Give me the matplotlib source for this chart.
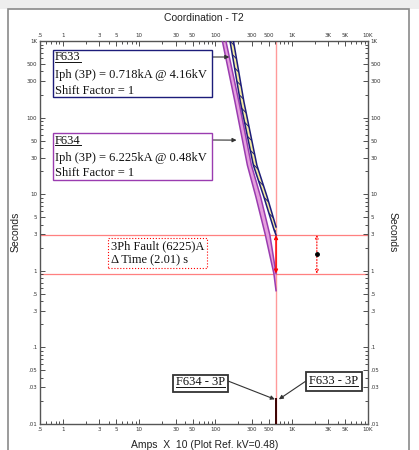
import numpy as np
import matplotlib
matplotlib.use('Agg')
import matplotlib.pyplot as plt
from matplotlib.patches import Rectangle
from matplotlib.lines import Line2D
from matplotlib.ticker import FixedLocator, NullFormatter

# ---------------------------------------------------------------
# Dados (Amps x10, segundos)
# ---------------------------------------------------------------
f633_lo_amps = [155, 212, 314, 431, 589, 622.5]
f633_lo_sec = [1000, 161, 23.9, 9.22, 3.38, 2.93]
f633_hi_amps = [172, 236, 349, 476, 622.5]
f633_hi_sec = [1000, 161, 23.9, 9.22, 3.74]

f634_lo_amps = [123, 180, 262, 339, 451, 583, 622.5]
f634_lo_sec = [1000, 161, 23.9, 9.22, 2.93, 0.92, 0.55]
f634_hi_amps = [137, 203, 296, 391, 517, 622.5]
f634_hi_sec = [1000, 161, 23.9, 9.22, 2.93, 0.92]

fault_amps = 622.5
t_f633 = 2.93
t_f634 = 0.92
delta_amps = 2135
fault_mark_sec = [0.01, 0.021]

x_ticks = [0.5, 1, 3, 5, 10, 30, 50, 100, 300, 500, 1000, 3000, 5000, 10000]
x_labels = ['.5', '1', '3', '5', '10', '30', '50', '100', '300', '500', '1K', '3K', '5K', '10K']
y_ticks = [0.01, 0.03, 0.05, 0.1, 0.3, 0.5, 1, 3, 5, 10, 30, 50, 100, 300, 500, 1000]
y_labels = ['.01', '.03', '.05', '.1', '.3', '.5', '1', '3', '5', '10', '30', '50', '100', '300', '500', '1K']

NAVY = '#1c1c7a'
PURPLE = '#9a3cb0'
PINK = '#e6a0de'
RED = '#ff6060'

W, H = 419, 450


def fx(px):
    return px / W


def fy(py):
    return 1 - py / H


fig = plt.figure(figsize=(W / 100, H / 100), dpi=100)
fig.patch.set_facecolor('white')
ax = fig.add_axes([fx(40), fy(424), fx(368) - fx(40), fy(41) - fy(424)])
ax.set_xscale('log')
ax.set_yscale('log')
ax.set_xlim(0.5, 10000)
ax.set_ylim(0.01, 1000)

# moldura externa
fig.add_artist(Rectangle((0, fy(9)), 1, 1 - fy(9), transform=fig.transFigure,
                         facecolor='#eeeeee', edgecolor='none', zorder=-5))
fig.add_artist(Rectangle((fx(8), -0.01), fx(409) - fx(8), fy(9) + 0.01,
                         transform=fig.transFigure, facecolor='white',
                         edgecolor='#8a8a8a', lw=1.2, zorder=-4))

# ticks
minor_x = [m * 10.0 ** d for d in range(-1, 4) for m in range(1, 10)]
minor_y = [m * 10.0 ** d for d in range(-2, 3) for m in range(1, 10)]
ax.xaxis.set_major_locator(FixedLocator(x_ticks))
ax.xaxis.set_minor_locator(FixedLocator([v for v in minor_x if 0.5 <= v <= 10000 and v not in x_ticks]))
ax.yaxis.set_major_locator(FixedLocator(y_ticks))
ax.yaxis.set_minor_locator(FixedLocator([v for v in minor_y if 0.01 <= v <= 1000 and v not in y_ticks]))
ax.set_xticklabels(x_labels)
ax.set_yticklabels(y_labels)
ax.xaxis.set_minor_formatter(NullFormatter())
ax.yaxis.set_minor_formatter(NullFormatter())
ax.tick_params(which='both', direction='in', top=True, right=True,
               labeltop=True, labelright=True, labelsize=4, pad=2, colors='#333333')
ax.tick_params(which='major', length=3.5, width=0.6)
ax.tick_params(which='minor', length=2, width=0.6)
for s in ax.spines.values():
    s.set_color('#555555')
    s.set_linewidth(1)

# linhas de falta
ax.axvline(fault_amps, color='#ff9a9a', lw=1, zorder=1)
ax.axhline(t_f633, color=RED, lw=0.9, alpha=0.8, zorder=1)
ax.axhline(t_f634, color=RED, lw=0.9, alpha=0.8, zorder=1)

# faixa F634
poly_x = list(f634_hi_amps) + list(f634_lo_amps[::-1])
poly_y = list(f634_hi_sec) + list(f634_lo_sec[::-1])
ax.fill(poly_x, poly_y, facecolor=PINK, edgecolor='none', zorder=2)
ax.plot(f634_lo_amps, f634_lo_sec, color=PURPLE, lw=1.1, zorder=3)
ax.plot(f634_hi_amps, f634_hi_sec, color=PURPLE, lw=1.1, zorder=3)

# faixa F633
plt.rcParams['hatch.linewidth'] = 0.7
plt.rcParams['hatch.color'] = NAVY
poly_x = list(f633_hi_amps) + list(f633_lo_amps[::-1])
poly_y = list(f633_hi_sec) + list(f633_lo_sec[::-1])
ax.fill(poly_x, poly_y, facecolor='#f4eca0', edgecolor=NAVY, hatch='\\\\\\', lw=0, zorder=2)
ax.plot(f633_lo_amps, f633_lo_sec, color=NAVY, lw=1.1, zorder=3)
ax.plot(f633_hi_amps, f633_hi_sec, color=NAVY, lw=1.1, zorder=3)

# delta T
ax.annotate('', xy=(fault_amps, t_f633), xytext=(fault_amps, t_f634),
            arrowprops=dict(arrowstyle='<->', color='red', lw=1.1, mutation_scale=5,
                            shrinkA=0, shrinkB=0), zorder=4)
ax.annotate('', xy=(delta_amps, t_f633), xytext=(delta_amps, t_f634),
            arrowprops=dict(arrowstyle='<->', color='red', lw=0.8, ls=':', mutation_scale=5,
                            shrinkA=0, shrinkB=0), zorder=4)
ax.plot([delta_amps], [np.sqrt(t_f633 * t_f634)], 'o', color='black', ms=2.5, zorder=5)

# marca da falta 3P
ax.plot([fault_amps, fault_amps], fault_mark_sec, color='#3a0000', lw=1.4, zorder=4)


def box(x0, y0, x1, y1, color, lw=1.0, ls='-'):
    fig.add_artist(Rectangle((fx(x0), fy(y1)), fx(x1) - fx(x0), fy(y0) - fy(y1),
                             transform=fig.transFigure, facecolor='white',
                             edgecolor=color, lw=lw, ls=ls, zorder=6))


under = []


def label(x, y, s, size=9, underline=False):
    t = fig.text(fx(x), fy(y), s, fontsize=size, family='Liberation Serif',
                 ha='left', va='center', color='#111111', zorder=7)
    if underline:
        under.append(t)
    return t


def pointer(target, start):
    ax.annotate('', xy=target, xycoords='data', xytext=(fx(start[0]), fy(start[1])),
                textcoords='figure fraction',
                arrowprops=dict(arrowstyle='-|>', color='#333333', lw=0.8, mutation_scale=6,
                                shrinkA=0, shrinkB=0), zorder=5)


# caixa F633
box(53, 50, 212, 97, NAVY)
label(55, 57.5, 'F633', underline=True)
label(55, 75, 'Iph (3P) = 0.718kA @ 4.16kV')
label(55, 90.5, 'Shift Factor = 1')
pointer((152, 618), (212, 57))

# caixa F634
box(53, 133, 212, 180, PURPLE)
label(55, 140.5, 'F634', underline=True)
label(55, 158, 'Iph (3P) = 6.225kA @ 0.48kV')
label(55, 173.5, 'Shift Factor = 1')
pointer((189, 50.8), (212, 140))

# caixa delta
box(108, 238, 207, 268, 'red', lw=0.8, ls=':')
label(111, 246, '3Ph Fault (6225)A')
label(111, 260.5, '\u0394 Time (2.01) s')

# caixas 3P
box(173, 375, 228, 391.5, '#333333', lw=1.3)
label(175.5, 382, 'F634 - 3P', underline=True)
pointer((601, 0.021), (228, 381))
box(306, 372, 362, 390.5, '#333333', lw=1.3)
label(308.5, 381, 'F633 - 3P', underline=True)
pointer((678, 0.021), (306, 381))

# titulos
fig.text(fx(204), fy(18), 'Coordination - T2', fontsize=7.5, family='Liberation Sans',
         ha='center', va='center', color='#222222')
fig.text(fx(205), fy(445), 'Amps  X  10 (Plot Ref. kV=0.48)', fontsize=7.5,
         family='Liberation Sans', ha='center', va='center', color='#222222')
fig.text(fx(16), fy(232), 'Seconds', fontsize=7.5, family='Liberation Sans',
         rotation=90, ha='center', va='center', color='#222222')
fig.text(fx(393), fy(232), 'Seconds', fontsize=7.5, family='Liberation Sans',
         rotation=270, ha='center', va='center', color='#222222')

# sublinhado dos nomes
fig.canvas.draw()
rend = fig.canvas.get_renderer()
for t in under:
    bb = t.get_window_extent(rend)
    yb = bb.y0 + 1.5
    fig.add_artist(Line2D([bb.x0 / fig.bbox.width, bb.x1 / fig.bbox.width],
                          [yb / fig.bbox.height, yb / fig.bbox.height],
                          transform=fig.transFigure, color='#111111', lw=0.7, zorder=8))

fig.savefig('out.png', dpi=100)
